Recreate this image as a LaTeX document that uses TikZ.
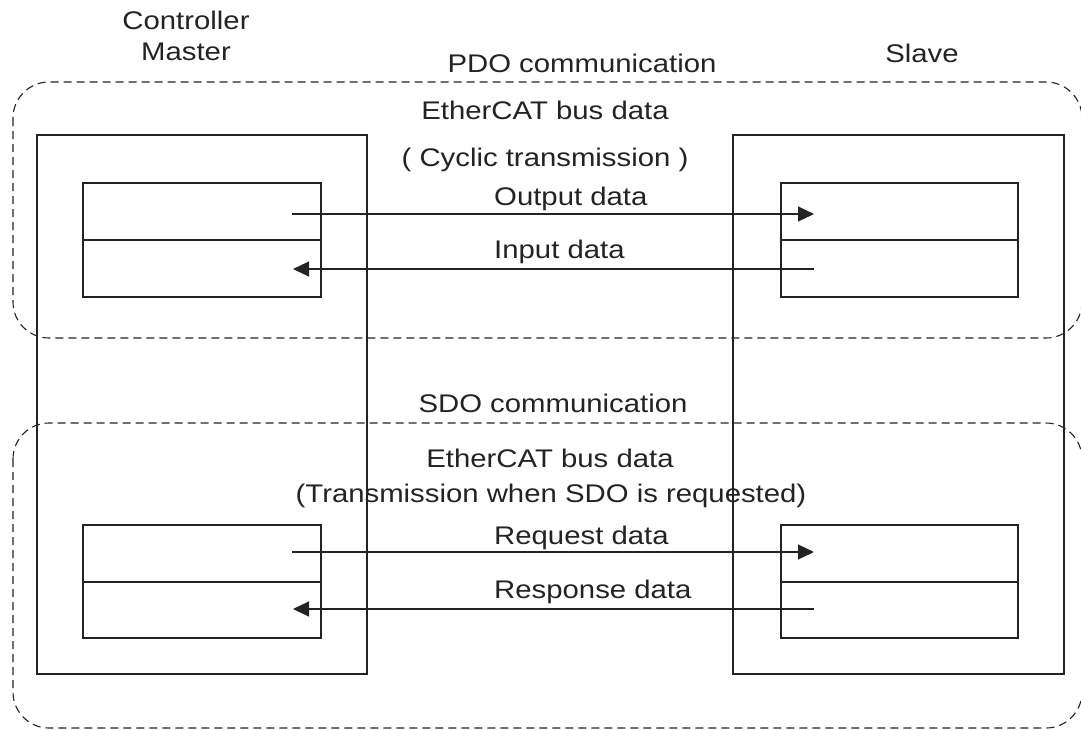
\documentclass[tikz,border=0pt]{standalone}
\usepackage{fontspec}
\setmainfont{Liberation Sans}[FakeStretch=1.15]
\usetikzlibrary{arrows.meta}
\definecolor{ink}{RGB}{35,35,35}
\begin{document}
\begin{tikzpicture}[x=1pt,y=-1pt,
  box/.style={draw=ink, line width=1.4pt, inner sep=0pt, outer sep=0pt},
  grp/.style={draw=ink, line width=1.1pt, dash pattern=on 8pt off 5pt, rounded corners=36pt},
  lbl/.style={text=ink, font=\fontsize{25.5}{30}\selectfont, inner sep=0pt, anchor=base},
  arr/.style={draw=ink, line width=1.1pt, -{Triangle[length=16pt,width=15pt]}}
]
\useasboundingbox (0,0) rectangle (1081,729);
% group frames
\draw[grp] (13,82) rectangle (1082,338);
\draw[grp] (13,423) rectangle (1082,728);
% master and slave
\node[box, minimum width=330pt, minimum height=539pt] (master) at (202,404.5) {};
\node[box, minimum width=331pt, minimum height=539pt] (slave) at (898.5,404.5) {};
% inner boxes PDO
\node[box, minimum width=238pt, minimum height=57pt] (mout) at (202,211.5) {};
\node[box, minimum width=238pt, minimum height=57pt] (min) at (202,268.5) {};
\node[box, minimum width=237pt, minimum height=57pt] (sout) at (899.5,211.5) {};
\node[box, minimum width=237pt, minimum height=57pt] (sin) at (899.5,268.5) {};
% inner boxes SDO
\node[box, minimum width=238pt, minimum height=57pt] (mreq) at (202,553.5) {};
\node[box, minimum width=238pt, minimum height=56pt] (mres) at (202,610) {};
\node[box, minimum width=237pt, minimum height=57pt] (sreq) at (899.5,553.5) {};
\node[box, minimum width=237pt, minimum height=56pt] (sres) at (899.5,610) {};
% arrow ends
\coordinate (a1s) at (292,214); \coordinate (a1e) at (814,214);
\coordinate (a2s) at (814,269); \coordinate (a2e) at (293,269);
\coordinate (a3s) at (292,552); \coordinate (a3e) at (814,552);
\coordinate (a4s) at (814,609); \coordinate (a4e) at (293,609);
\draw[arr] (a1s) -- (a1e);
\draw[arr] (a2s) -- (a2e);
\draw[arr] (a3s) -- (a3e);
\draw[arr] (a4s) -- (a4e);
% labels
\node[lbl] (ctl) at (186,29) {Controller};
\node[lbl] (mst) at (186,60) {Master};
\node[lbl] (slv) at (922,62) {Slave};
\node[lbl] (pdo) at (582,72) {PDO communication};
\node[lbl] (eb1) at (545,119) {EtherCAT bus data};
\node[lbl] (cyc) at (545,166) {( Cyclic transmission )};
\node[lbl, anchor=base west] (outl) at (494,205) {Output data};
\node[lbl, anchor=base west] (inl) at (494,258) {Input data};
\node[lbl] (sdo) at (553,412) {SDO communication};
\node[lbl] (eb2) at (550,467) {EtherCAT bus data};
\node[lbl] (trn) at (551,502) {(Transmission when SDO is requested)};
\node[lbl, anchor=base west] (reql) at (494,544) {Request data};
\node[lbl, anchor=base west] (resl) at (494,598) {Response data};
\end{tikzpicture}
\end{document}
